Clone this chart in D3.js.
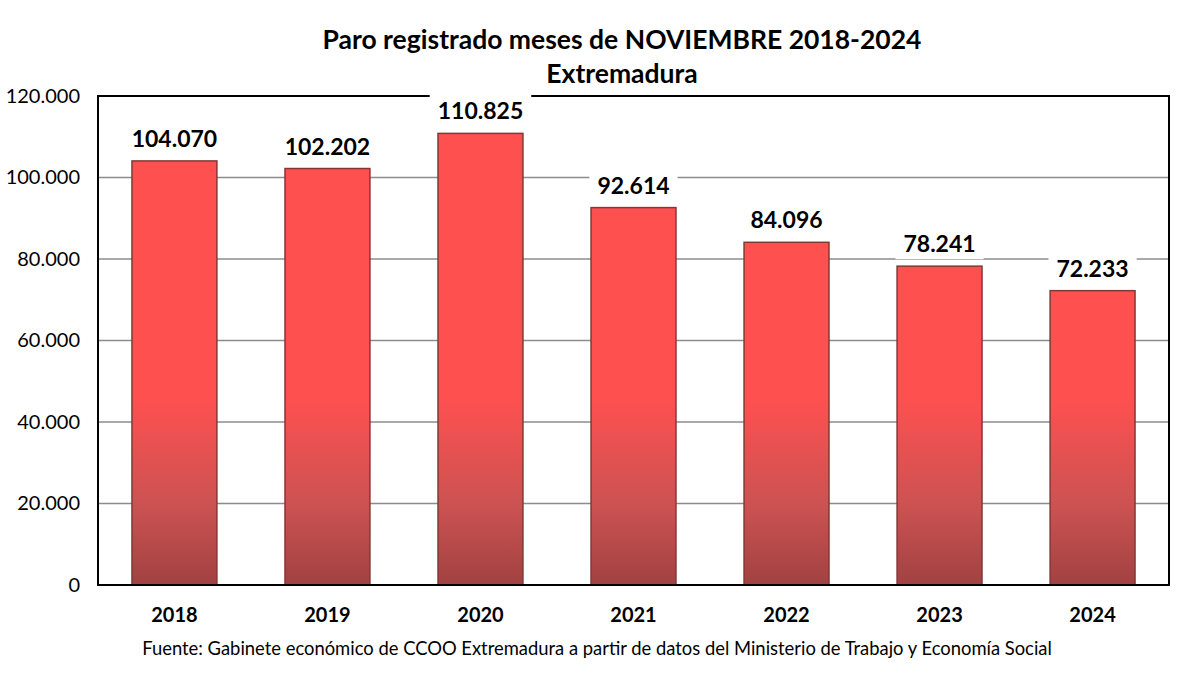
<!DOCTYPE html>
<html>
<head>
<meta charset="utf-8">
<script src="https://cdnjs.cloudflare.com/ajax/libs/d3/7.8.5/d3.min.js"></script>
<style>
  body { margin: 0; background: #fff; }
  text { font-family: Lato, "Liberation Sans", sans-serif; fill: #000; }
</style>
</head>
<body>
<div id="chart"></div>
<script>
// data
var years = ["2018", "2019", "2020", "2021", "2022", "2023", "2024"];
var parados = [104070, 102202, 110825, 92614, 84096, 78241, 72233];
var yTicks = [0, 20000, 40000, 60000, 80000, 100000, 120000];

var width = 1200, height = 675;
var margin = {top: 96, right: 31, bottom: 90, left: 98};
var pw = width - margin.left - margin.right,
    ph = height - margin.top - margin.bottom;

var svg = d3.select("#chart").append("svg")
  .attr("width", width)
  .attr("height", height);

// gradient over the whole plot height, like the original
var grad = svg.append("defs").append("linearGradient")
  .attr("id", "barGrad")
  .attr("gradientUnits", "userSpaceOnUse")
  .attr("x1", 0).attr("y1", margin.top)
  .attr("x2", 0).attr("y2", margin.top + ph);
grad.append("stop").attr("offset", "0").attr("stop-color", "#ff5050");
grad.append("stop").attr("offset", "0.42").attr("stop-color", "#ff5050");
grad.append("stop").attr("offset", "0.64").attr("stop-color", "#cc5252");
grad.append("stop").attr("offset", "0.84").attr("stop-color", "#983e3e");
grad.append("stop").attr("offset", "1").attr("stop-color", "#642424");

var g = svg.append("g").attr("transform", "translate(" + margin.left + "," + margin.top + ")");

var x = d3.scaleBand().domain(years).range([0, pw]).paddingInner(0.445).paddingOuter(0.222);
var y = d3.scaleLinear().domain([0, 120000]).range([ph, 0]);

var fmt = function(v) { return d3.format(",")(v).replace(/,/g, "."); };

// gridlines
g.append("g").selectAll("line").data(yTicks.slice(1, -1)).enter().append("line")
  .attr("x1", 0).attr("x2", pw)
  .attr("y1", function(d) { return y(d); })
  .attr("y2", function(d) { return y(d); })
  .attr("stroke", "#8c8c8c")
  .attr("stroke-width", 1.5);

// y axis labels
var yAxis = d3.axisLeft(y).tickValues(yTicks).tickSize(0).tickPadding(18)
  .tickFormat(function(d) { return d === 0 ? "0" : fmt(d); });
var ya = g.append("g").call(yAxis);
ya.select(".domain").remove();
ya.selectAll("text").style("font-size", "20px").style("font-family", "Lato, sans-serif").attr("fill", "#222");

// bars
g.selectAll("rect.bar").data(parados).enter().append("rect")
  .attr("class", "bar")
  .attr("x", function(d, i) { return x(years[i]); })
  .attr("y", function(d) { return y(d); })
  .attr("width", x.bandwidth())
  .attr("height", function(d) { return ph - y(d); })
  .attr("fill", "url(#barGrad)")
  .attr("stroke", "#863636")
  .attr("stroke-width", 1.5);

// plot border
g.append("rect")
  .attr("x", 0).attr("y", 0).attr("width", pw).attr("height", ph)
  .attr("fill", "none").attr("stroke", "#000").attr("stroke-width", 2);

// value labels with white box
var lab = g.selectAll("g.lab").data(parados).enter().append("g").attr("class", "lab");
lab.append("text")
  .attr("x", function(d, i) { return x(years[i]) + x.bandwidth() / 2; })
  .attr("y", function(d) { return y(d) - 14; })
  .attr("text-anchor", "middle")
  .style("font-size", "23px")
  .style("font-weight", "bold")
  .text(function(d) { return fmt(d); });
lab.each(function() {
  var t = d3.select(this).select("text");
  var b = t.node().getBBox();
  d3.select(this).insert("rect", "text")
    .attr("x", b.x - 8).attr("y", b.y - 2)
    .attr("width", b.width + 16).attr("height", b.height + 4)
    .attr("fill", "#fff");
});

// category labels
var xAxis = d3.axisBottom(x).tickSize(0).tickPadding(23);
var xa = g.append("g").attr("transform", "translate(0," + ph + ")").call(xAxis);
xa.select(".domain").remove();
xa.selectAll("text").style("font-size", "20px").style("font-weight", "bold")
  .style("font-family", "Lato, sans-serif").attr("fill", "#000");

// titles
svg.append("text").attr("x", 622).attr("y", 49).attr("text-anchor", "middle")
  .style("font-size", "26.5px").style("font-weight", "bold")
  .text("Paro registrado meses de NOVIEMBRE 2018-2024");
svg.append("text").attr("x", 622).attr("y", 83).attr("text-anchor", "middle")
  .style("font-size", "26.5px").style("font-weight", "bold")
  .text("Extremadura");

// source
svg.append("text").attr("x", 597).attr("y", 655).attr("text-anchor", "middle")
  .style("font-size", "18.4px").attr("fill", "#222")
  .text("Fuente: Gabinete económico de CCOO Extremadura a partir de datos del Ministerio de Trabajo y Economía Social");
</script>
</body>
</html>
